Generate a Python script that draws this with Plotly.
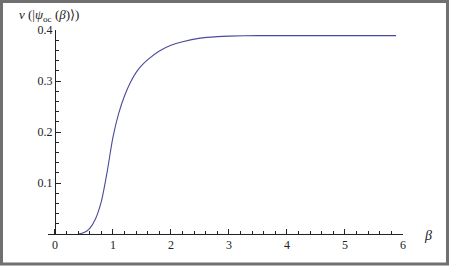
import plotly.graph_objects as go

# data
beta = [0.40, 0.45, 0.50, 0.55, 0.60, 0.70, 0.80, 0.90, 1.00, 1.10, 1.20, 1.30, 1.40, 1.50,
        1.60, 1.80, 2.00, 2.20, 2.50, 2.80, 3.00, 3.50, 4.00, 5.00, 5.88]
nu = [0.000, 0.001, 0.003, 0.006, 0.011, 0.030, 0.064, 0.122, 0.190, 0.237, 0.271, 0.297, 0.317, 0.331,
      0.342, 0.359, 0.370, 0.377, 0.384, 0.387, 0.388, 0.389, 0.389, 0.389, 0.389]

x_ticks = [0, 1, 2, 3, 4, 5, 6]
y_ticks = [0.1, 0.2, 0.3, 0.4]

W, H = 449, 266
ML, MR, MT, MB = 48, 46, 30, 32
PW, PH = W - ML - MR, H - MT - MB
XR = [-0.12, 6.0]
YR = [0, 0.4]

def px_x(p):
    return (p - ML) / PW

def px_y(p):
    return (H - MB - p) / PH

fig = go.Figure()
fig.add_trace(go.Scatter(x=beta, y=nu, mode="lines", line=dict(color="#4a4a9c", width=1.1, shape="spline", smoothing=0.8),
                         hoverinfo="skip", showlegend=False))

tickfont = dict(family="Liberation Serif", size=12, color="#222")
fig.update_layout(
    width=W, height=H,
    margin=dict(l=ML, r=MR, t=MT, b=MB, autoexpand=False),
    paper_bgcolor="white", plot_bgcolor="white",
    xaxis=dict(range=XR, domain=[0, 1], showgrid=False, zeroline=False, automargin=False,
               showline=True, linecolor="#222", linewidth=1,
               tickvals=x_ticks, ticks="inside", ticklen=5, tickcolor="#222", tickwidth=1,
               tickfont=tickfont,
               minor=dict(dtick=0.2, tick0=0, ticks="inside", ticklen=3, tickcolor="#222", showgrid=False)),
    yaxis=dict(range=YR, anchor="free", position=(0 - XR[0]) / (XR[1] - XR[0]), automargin=False,
               showgrid=False, zeroline=False,
               showline=True, linecolor="#222", linewidth=1,
               tickvals=y_ticks, ticktext=["0.1", "0.2", "0.3", "0.4"], ticks="inside", ticklen=5,
               tickcolor="#222", tickwidth=1, tickfont=tickfont,
               minor=dict(dtick=0.02, tick0=0, ticks="inside", ticklen=3, tickcolor="#222", showgrid=False)),
    font=dict(family="Liberation Serif", color="#222"),
)

# axis labels
fig.add_annotation(xref="paper", yref="paper", x=px_x(17), y=px_y(15), xanchor="left", yanchor="middle",
                   text="<i>ν</i> (|<i>ψ</i><sub>oc</sub> (<i>β</i>)⟩)", showarrow=False,
                   font=dict(family="Liberation Serif", size=13, color="#222"))
fig.add_annotation(xref="paper", yref="paper", x=px_x(428), y=px_y(235), xanchor="center", yanchor="middle",
                   text="<i>β</i>", showarrow=False,
                   font=dict(family="Liberation Serif", size=14, color="#222"))

# gray frame
fig.add_shape(type="rect", xref="paper", yref="paper",
              x0=px_x(1.5), x1=px_x(447.5), y0=px_y(264), y1=px_y(1.5),
              line=dict(color="#707070", width=3), fillcolor="rgba(0,0,0,0)", layer="above")

fig.write_html("out.html", config={"displayModeBar": False},
               post_script="document.body.style.margin='0';document.body.style.overflow='hidden';")
